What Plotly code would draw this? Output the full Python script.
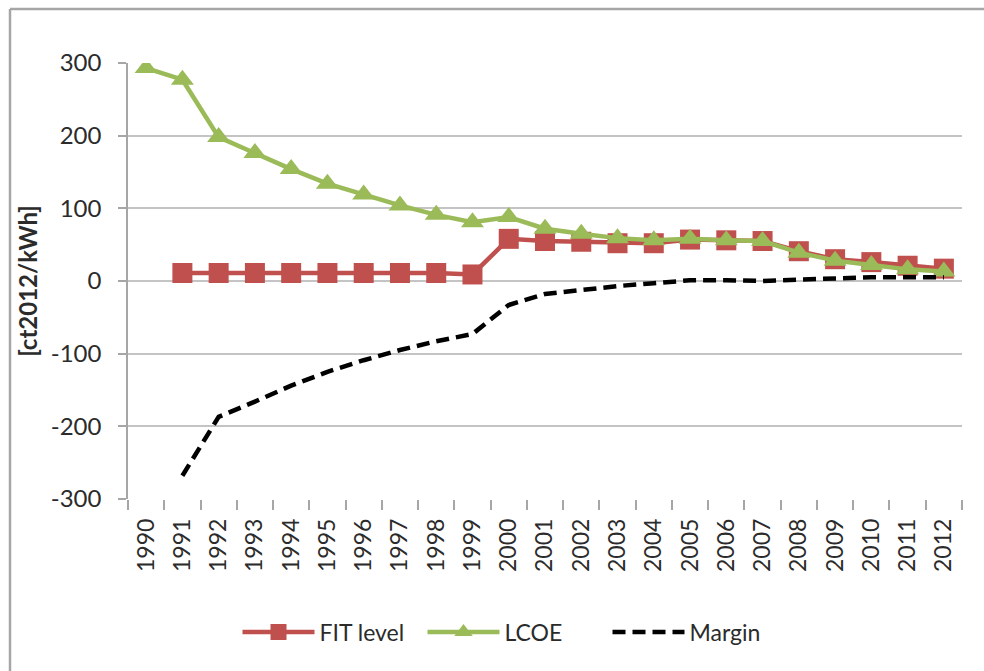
import plotly.graph_objects as go

# Years shown on the category axis
years = [str(y) for y in range(1990, 2013)]

# Levelised cost of electricity, 1990-2012 [ct2012/kWh]
lcoe = [293, 277, 198, 176, 154, 134, 119, 104, 91, 81, 88, 72,
        65, 59, 56, 58, 56, 55, 39, 28, 22, 16, 13]

# Feed-in tariff level, 1991-2012 [ct2012/kWh]
fit_years = years[1:]
fit_level = [11, 11, 11, 11, 11, 11, 11, 11, 9, 58, 55, 54,
             52, 52, 57, 56, 55, 41, 30, 26, 21, 17]

# Margin between tariff and cost, 1991-2012 [ct2012/kWh]
margin = [-268, -187, -166, -144, -125, -109, -95, -83, -73, -33, -18,
          -12, -7, -3, 1, 1, 0, 2, 4, 5, 5, 5]

# Value-axis ticks, written with a plain hyphen for negatives
y_ticks = [-300, -200, -100, 0, 100, 200, 300]
y_tick_text = [str(v) for v in y_ticks]

RED = "#C0504D"
GREEN = "#9BBB59"
GRID = "#C4C4C4"
TEXT = "#2b2b2b"
FONT = "Lato, 'Open Sans', sans-serif"

fig = go.Figure()

fig.add_trace(go.Scatter(
    x=fit_years, y=fit_level, name="FIT level", mode="lines+markers",
    line=dict(color=RED, width=4.5),
    marker=dict(symbol="square", size=20, color=RED),
))
fig.add_trace(go.Scatter(
    x=years, y=lcoe, name="LCOE", mode="lines+markers",
    line=dict(color=GREEN, width=4.5),
    marker=dict(symbol="triangle-up", size=20, color=GREEN),
))
fig.add_trace(go.Scatter(
    x=fit_years, y=margin, name="Margin", mode="lines",
    line=dict(color="black", width=4.5, dash="13px,7px"),
))

W, H = 984, 671
L, R, T, B = 128, 22, 63, 172
pw, ph = W - L - R, H - T - B


def px_to_paper(px, py):
    return (px - L) / pw, (H - B - py) / ph


# Outer frame of the chart area: left and top edges
fx0, fy_bot = px_to_paper(10, H)
fx1, fy_top = px_to_paper(W, 9)
frame = dict(color="#A6A6A6", width=2.5)
fig.add_shape(type="line", xref="paper", yref="paper",
              x0=fx0, y0=fy_bot, x1=fx0, y1=fy_top, line=frame, layer="below")
fig.add_shape(type="line", xref="paper", yref="paper",
              x0=fx0, y0=fy_top, x1=fx1, y1=fy_top, line=frame, layer="below")

lx, ly = px_to_paper(515, 632)

fig.update_layout(
    width=W, height=H,
    margin=dict(l=L, r=R, t=T, b=B, pad=0),
    paper_bgcolor="white", plot_bgcolor="white",
    font=dict(family=FONT, size=24, color=TEXT),
    showlegend=True,
    legend=dict(orientation="h", x=lx, y=ly, xanchor="center", yanchor="middle",
                font=dict(size=23, color=TEXT), itemwidth=72,
                entrywidth=98, entrywidthmode="pixels",
                bgcolor="rgba(0,0,0,0)"),
    xaxis=dict(
        type="category", categoryorder="array", categoryarray=years,
        range=[-0.5, len(years) - 0.5],
        tickmode="array", tickvals=years, ticktext=years,
        tickangle=-90, tickson="boundaries",
        ticks="outside", ticklen=10, tickwidth=1.5, tickcolor="#A6A6A6",
        ticklabelstandoff=14,
        showgrid=False, showline=False, zeroline=False,
        tickfont=dict(size=23, color=TEXT),
    ),
    yaxis=dict(
        range=[-300, 300], tickmode="array",
        tickvals=y_ticks, ticktext=y_tick_text,
        ticks="outside", ticklen=8, tickwidth=1.5, tickcolor="#A6A6A6",
        ticklabelstandoff=12,
        showgrid=True, gridcolor=GRID, gridwidth=2,
        zeroline=False, showline=True, linecolor="#A6A6A6", linewidth=1.5,
        tickfont=dict(size=24, color=TEXT),
        title=dict(text="<b>[ct2012/kWh]</b>", standoff=6,
                   font=dict(size=24, color=TEXT)),
    ),
)

fig.write_html("out.html")
